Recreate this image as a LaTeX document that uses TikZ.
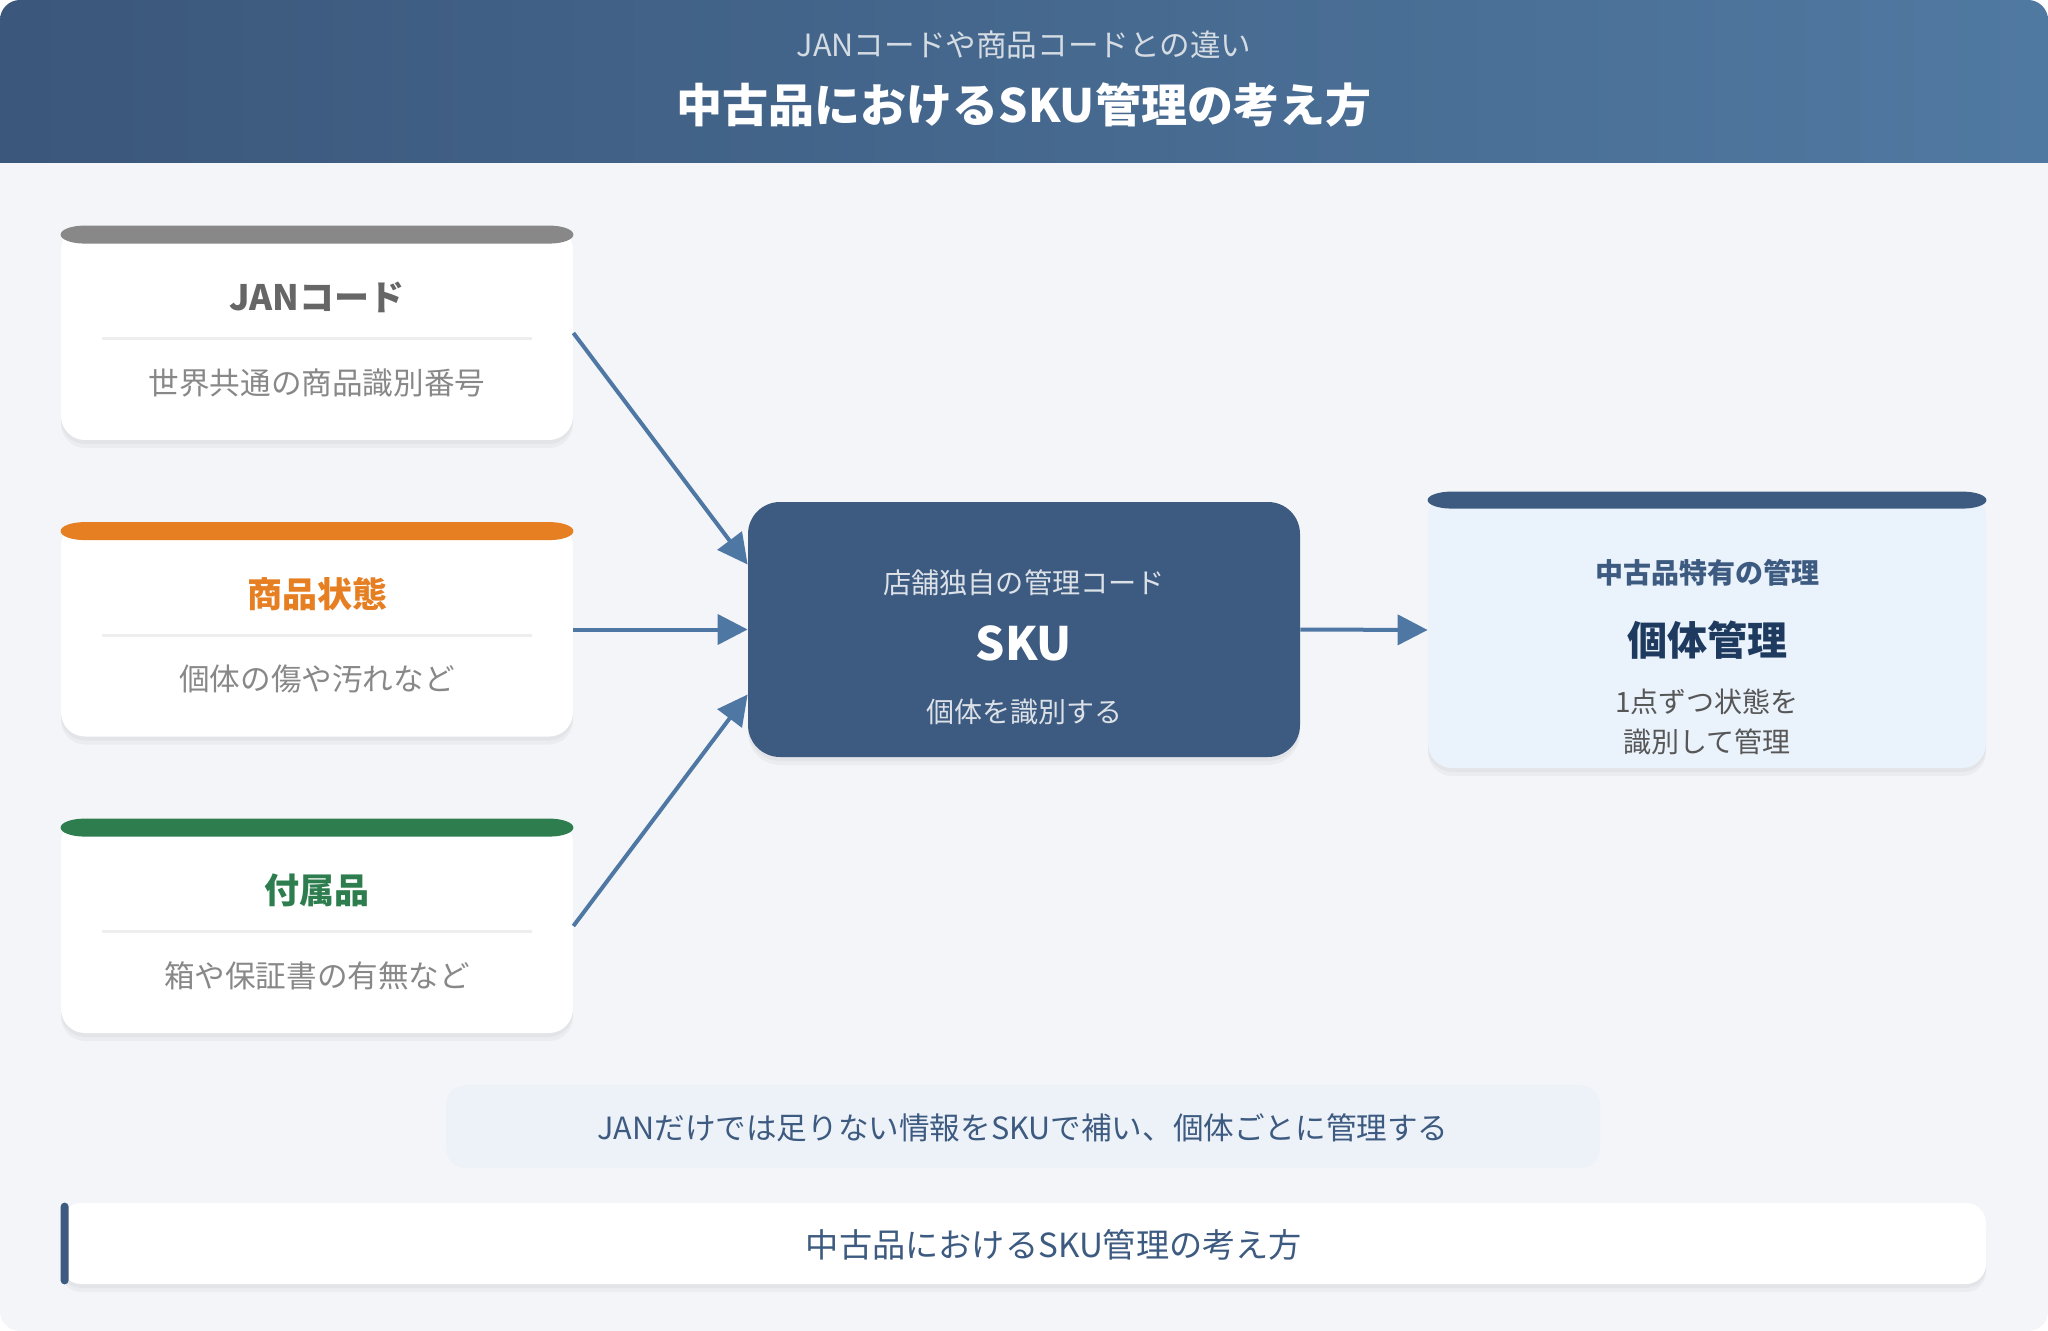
\documentclass[tikz,border=0pt]{standalone}
\usepackage{fontspec}
\setmainfont{Noto Sans CJK JP}
\usetikzlibrary{arrows.meta}
\definecolor{bg}{HTML}{F3F5F9}
\definecolor{navy}{HTML}{3D5A80}
\definecolor{hdrL}{HTML}{3B577B}
\definecolor{hdrR}{HTML}{5079A1}
\definecolor{arrowc}{HTML}{4E78A3}
\definecolor{graybar}{HTML}{888888}
\definecolor{graytitle}{HTML}{666666}
\definecolor{graytext}{HTML}{888888}
\definecolor{orangec}{HTML}{E67E22}
\definecolor{greenc}{HTML}{2E7D4F}
\definecolor{lightblue}{HTML}{EAF2FB}
\definecolor{notebg}{HTML}{EDF2F9}
\definecolor{darknavy}{HTML}{1E3A5F}
\definecolor{divc}{HTML}{EEEEEE}
\tikzset{
  softshadow/.style={
    preaction={fill=black,opacity=0.035,transform canvas={yshift=-4pt}},
    preaction={fill=black,opacity=0.03,transform canvas={yshift=-2pt}}},
  cardbox/.style={fill=white,rounded corners=12pt,minimum width=256pt,minimum height=107pt,inner sep=0pt,softshadow},
  cardtitle/.style={font=\bfseries\fontsize{17.5}{20}\selectfont},
  cardsub/.style={font=\fontsize{15.3}{18}\selectfont,text=graytext},
  conn/.style={draw=arrowc,line width=2pt,-{Triangle[length=15pt,width=15pt]}},
}
\newcommand\topbar[3]{% node, colour, thickness (pt)
  \fill[#2] ([xshift=12pt]#1.north west) -- ([xshift=-12pt]#1.north east)
    arc[start angle=90,end angle=-90,x radius=12pt,y radius=#3/2]
    -- ([xshift=12pt,yshift=-#3]#1.north west)
    arc[start angle=270,end angle=90,x radius=12pt,y radius=#3/2] -- cycle;
}
\newcommand\leftcard[6]{%
  \node[cardbox] (#1) at (317,#2) {};
  \topbar{#1}{#3}{9pt}
  \node[cardtitle,text=#4] (#1t) at ([yshift=-36pt]#1.north) {#5};
  \draw[divc,line width=1.5pt] ([xshift=20.5pt,yshift=-56.5pt]#1.north west) -- ([xshift=-20.5pt,yshift=-56.5pt]#1.north east);
  \node[cardsub] (#1s) at ([yshift=-78.5pt]#1.north) {#6};
}
\begin{document}
\begin{tikzpicture}[x=0.5pt,y=-0.5pt]
\useasboundingbox (0,0) rectangle (2048,1331);
\fill[white] (0,0) rectangle (2048,1331);
\fill[bg,rounded corners=10pt] (0,0) rectangle (2048,1331);
\begin{scope}
  \clip[rounded corners=10pt] (0,0) rectangle (2048,400);
  \shade[left color=hdrL,right color=hdrR] (0,0) rectangle (2048,163);
\end{scope}
\node[font=\fontsize{15.3}{18}\selectfont,text=white!78!navy] (hsub) at (1024,45) {JANコードや商品コードとの違い};
\node[font=\bfseries\fontsize{23}{26}\selectfont,text=white] (htitle) at (1024,105) {中古品におけるSKU管理の考え方};

\leftcard{jan}{333}{graybar}{graytitle}{JANコード}{世界共通の商品識別番号}
\leftcard{cond}{629.5}{orangec}{orangec}{商品状態}{個体の傷や汚れなど}
\leftcard{acc}{926}{greenc}{greenc}{付属品}{箱や保証書の有無など}

\node[fill=navy,rounded corners=16pt,minimum width=276pt,minimum height=127.5pt,inner sep=0pt,softshadow] (sku) at (1024,629.5) {};
\node[font=\fontsize{14.1}{16}\selectfont,text=white!82!navy] (skua) at (1024,583) {店舗独自の管理コード};
\node[font=\bfseries\fontsize{23}{26}\selectfont,text=white] (skub) at (1024,643) {SKU};
\node[font=\fontsize{14}{16}\selectfont,text=white!82!navy] (skuc) at (1024,712) {個体を識別する};

\node[fill=lightblue,rounded corners=12pt,minimum width=279pt,minimum height=138pt,inner sep=0pt,softshadow] (ind) at (1707,630) {};
\topbar{ind}{navy}{8.5pt}
\node[font=\bfseries\fontsize{14}{16}\selectfont,text=navy] (inda) at (1707,573) {中古品特有の管理};
\node[font=\bfseries\fontsize{20}{24}\selectfont,text=darknavy] (indb) at (1707,640) {個体管理};
\node[font=\fontsize{14}{20}\selectfont,text=graytitle!85!black,align=center] (indc) at (1707,722) {1点ずつ状態を\\識別して管理};

\draw[conn] (jan.east) -- ([yshift=32.5pt]sku.west);
\draw[conn] (cond.east) -- (sku.west);
\draw[conn] (acc.east) -- ([yshift=-32.5pt]sku.west);
\draw[conn] (sku.east) -- (ind.west);

\node[fill=notebg,rounded corners=10pt,minimum width=577pt,minimum height=41.5pt,inner sep=0pt] (note) at (1023,1126.5) {};
\node[font=\fontsize{15.3}{18}\selectfont,text=navy] (notet) at (1023,1128) {JANだけでは足りない情報をSKUで補い、個体ごとに管理する};

\node[fill=white,rounded corners=10pt,minimum width=962.5pt,minimum height=40.5pt,inner sep=0pt,softshadow] (foot) at (1023.5,1243.5) {};
\fill[navy,rounded corners=2pt] (foot.north west) rectangle ([xshift=4pt]foot.south west);
\node[font=\fontsize{16.6}{19}\selectfont,text=navy] (foott) at (1054,1245) {中古品におけるSKU管理の考え方};
\end{tikzpicture}
\end{document}
